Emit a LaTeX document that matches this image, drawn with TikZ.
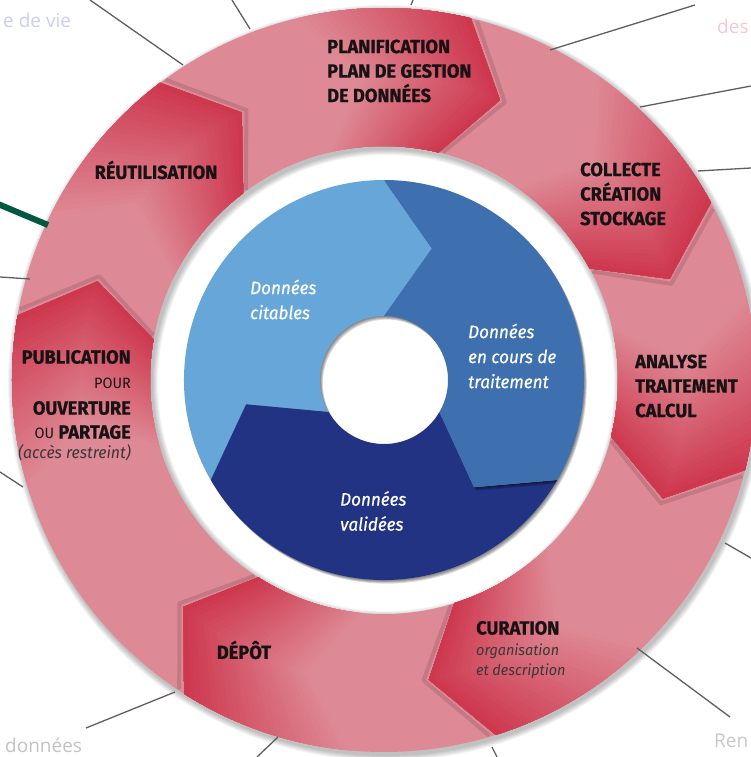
\documentclass[tikz,border=0pt]{standalone}
\usepackage{fontspec}
\setmainfont{Fira Sans}
\newfontfamily\stagefont[FakeStretch=0.96, BoldFeatures={FakeBold=0.8}]{Fira Sans}
\newfontfamily\datafont[FakeStretch=0.95, FakeBold=0.6]{Fira Sans}
\newfontfamily\notefont{Open Sans}
\usetikzlibrary{positioning}

\definecolor{ringpink}{RGB}{222,138,150}
\definecolor{ringred}{RGB}{206,56,78}
\definecolor{bluelight}{RGB}{102,166,216}
\definecolor{bluemid}{RGB}{62,111,174}
\definecolor{bluedark}{RGB}{34,51,131}
\definecolor{leadgray}{RGB}{95,95,95}
\definecolor{leadgreen}{RGB}{0,88,64}
\definecolor{textdark}{RGB}{24,18,20}

% #1 head angle, #2 how far back the piece goes
\newcommand{\stagehead}[2]{(#1+#2:372) arc[start angle=#1+#2, end angle=#1, radius=372]
  -- (#1-9:303) -- (#1:234) arc[start angle=#1, end angle=#1+#2, radius=234] -- (#1+#2-9:303) -- cycle}
% #1 tail angle, #2 head angle
\newcommand{\datapiece}[2]{(#1:200) arc[start angle=#1, end angle=#2, radius=200]
  -- (#2-20:140) -- (#2:64) arc[start angle=#2, end angle=#1, radius=64] -- (#1-20:140) -- cycle}

\begin{document}
\begin{tikzpicture}[x=1pt, y=1pt,
  stage/.style={font=\stagefont\bfseries\fontsize{19}{24.5}\selectfont, text=textdark, align=left, inner sep=0pt},
  stagelight/.style={font=\stagefont\fontsize{15}{18}\selectfont, text=textdark, inner sep=0pt},
  stagenote/.style={font=\stagefont\itshape\fontsize{15}{20}\selectfont, text=textdark!85, inner sep=0pt},
  datatext/.style={font=\datafont\itshape\fontsize{18}{25}\selectfont, text=white, align=left, inner sep=0pt},
  leader/.style={leadgray, line width=1.3pt},
  note/.style={font=\notefont\fontsize{19}{22}\selectfont, inner sep=0pt}]

\useasboundingbox (-384,-377) rectangle (367,380);
\clip (-384,-377) rectangle (367,380);
\fill[white] (-384,-377) rectangle (367,380);

% ring with its shadow
\foreach \k in {0,...,5}
  \fill[black, opacity=0.045, even odd rule] (2,-3) circle[radius=373+\k] (2,-3) circle[radius=233-\k];
\fill[ringpink, even odd rule] (0,0) circle[radius=372] (0,0) circle[radius=234];

% the seven stages
\foreach \h in {76.5,28.5,-14,-72.5,-122.5,170,127} {
  \draw[black, opacity=0.12, line width=4pt, line join=round] (\h-1:371) -- (\h-10:303) -- (\h-1:235);
  \foreach \s [evaluate=\s as \p using int(\s*100/27), evaluate=\s as \a using 28-\s] in {0,...,27}
    \fill[ringred!\p!ringpink] \stagehead{\h}{\a};
}

% data circle
\foreach \t/\hd/\c in {210/90/bluelight, -30/-150/bluedark, 90/-30/bluemid} {
  \foreach \k in {1,...,4}
    \fill[black, opacity=0.14, shift={(\k*0.7,-\k*0.9)}] \datapiece{\t}{\hd};
  \fill[\c] \datapiece{\t}{\hd};
}

% leader lines
\foreach \i/\ax/\ay/\bx/\by in {1/-294/380/-201/315, 2/-152/380/-134/351, 3/29/380/27/375,
    4/311/375/166/330, 5/367/294/256/273, 6/367/212/314/209, 7/-384/103/-354/101,
    8/-384/-92/-361/-107, 9/367/-178/341/-163, 10/346/-337/253/-268, 11/113/-377/108/-367,
    12/-298/-348/-209/-312, 13/-127/-377/-106/-357} {
  \coordinate (out\i) at (\ax,\ay);
  \coordinate (rim\i) at (\bx,\by);
  \draw[leader] (out\i) -- (rim\i);
}
\coordinate (outgreen) at (-386,176);
\coordinate (rimgreen) at (-336,155);
\draw[leadgreen, line width=6pt] (outgreen) -- (rimgreen);

% stage labels
\node[stage, anchor=west] (planif) at (-57,309) {PLANIFICATION\\PLAN DE GESTION\\DE DONNÉES};
\node[stage, anchor=west] (collecte) at (196,186) {COLLECTE\\CRÉATION\\STOCKAGE};
\node[stage, anchor=west] (analyse) at (251,-6) {ANALYSE\\TRAITEMENT\\CALCUL};
\node[stage, anchor=base west] (curation) at (92,-254.5) {CURATION};
\node[stagenote, anchor=base west] (curorg) at (92,-275) {organisation};
\node[stagenote, anchor=base west] (curdesc) at (92,-295) {et description};
\node[stage] (depot) at (-140,-270) {DÉPÔT};
\node[stage, anchor=base east] (publi) at (-253,16.4) {PUBLICATION};
\node[stagelight, anchor=base east] (pour) at (-253,-8.5) {POUR};
\node[stage, anchor=base east] (ouvert) at (-253,-34.6) {OUVERTURE};
\node[stage, anchor=base east] (partage) at (-253,-58.6) {{\mdseries\fontsize{15}{18}\selectfont OU} PARTAGE};
\node[stagenote, font=\stagefont\itshape\fontsize{16.5}{20}\selectfont, anchor=base east] (acces) at (-253,-78) {(accès restreint)};
\node[stage] (reuse) at (-228,210) {RÉUTILISATION};

% data labels
\node[datatext, anchor=west] (citables) at (-134,80.5) {Données\\citables};
\node[datatext, anchor=west] (encours) at (84,24) {Données\\en cours de\\traitement};
\node[datatext, anchor=west] (validees) at (-44,-131) {Données\\validées};

% texts around
\node[note, text={rgb,255:red,205;green,205;blue,240}, anchor=base west] (vie) at (-381,352) {e de vie};
\node[note, text={rgb,255:red,246;green,200;blue,210}, anchor=base west] (des) at (333,346) {des};
\node[note, text={rgb,255:red,195;green,195;blue,195}, anchor=base west] (donnees) at (-379,-372) {données};
\node[note, text={rgb,255:red,200;green,200;blue,200}, anchor=base west] (ren) at (330,-367) {Ren};

\end{tikzpicture}
\end{document}
